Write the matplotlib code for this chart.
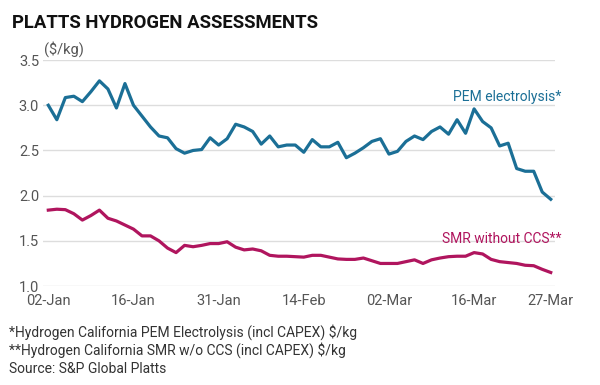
import matplotlib
matplotlib.use("Agg")
import matplotlib.pyplot as plt
import numpy as np

# business days, 02-Jan to 27-Mar (US holidays skipped)
tick_pos = [0, 10, 20, 30, 40, 50, 59]
tick_labels = ["02-Jan", "16-Jan", "31-Jan", "14-Feb", "02-Mar", "16-Mar", "27-Mar"]

pem = [3.00, 2.84, 3.085, 3.10, 3.04, 3.15, 3.27, 3.18, 2.97, 3.24,
       3.00, 2.88, 2.76, 2.66, 2.64, 2.52, 2.47, 2.50, 2.51, 2.64,
       2.56, 2.63, 2.79, 2.76, 2.71, 2.57, 2.66, 2.54, 2.56, 2.56,
       2.48, 2.62, 2.54, 2.54, 2.59, 2.42, 2.47, 2.53, 2.60, 2.63,
       2.46, 2.49, 2.60, 2.66, 2.62, 2.71, 2.76, 2.68, 2.84, 2.69,
       2.96, 2.82, 2.75, 2.55, 2.58, 2.30, 2.27, 2.27, 2.04, 1.96]

smr = [1.84, 1.85, 1.845, 1.80, 1.73, 1.78, 1.84, 1.75, 1.72, 1.675,
       1.63, 1.555, 1.555, 1.50, 1.42, 1.37, 1.45, 1.435, 1.45, 1.47,
       1.47, 1.49, 1.43, 1.40, 1.41, 1.39, 1.34, 1.33, 1.33, 1.325,
       1.32, 1.34, 1.34, 1.32, 1.30, 1.295, 1.295, 1.31, 1.28, 1.25,
       1.25, 1.25, 1.27, 1.29, 1.25, 1.29, 1.31, 1.325, 1.33, 1.33,
       1.37, 1.355, 1.295, 1.27, 1.26, 1.25, 1.23, 1.225, 1.185, 1.15]

blue = "#1b6f96"
magenta = "#b0155e"
grey = "#555555"
font = ["Roboto", "DejaVu Sans"]

fig = plt.figure(figsize=(6, 3.85), dpi=100)
ax = fig.add_axes([0.072, 0.257, 0.853, 0.587])

x = np.arange(len(pem))
ax.plot(x, pem, color=blue, lw=2.3)
ax.plot(x, smr, color=magenta, lw=2.3)

ax.set_xlim(-0.6, 59.5)
ax.set_ylim(1.0, 3.5)
ax.set_yticks([1.0, 1.5, 2.0, 2.5, 3.0, 3.5])
ax.set_yticklabels(["1.0", "1.5", "2.0", "2.5", "3.0", "3.5"])
ax.set_xticks(tick_pos)
ax.set_xticklabels(tick_labels)
ax.grid(axis="y", color="#dddddd", lw=1)
ax.set_axisbelow(True)
for s in ax.spines.values():
    s.set_visible(False)
ax.tick_params(length=0, labelsize=10.5, labelcolor=grey, pad=3)
ax.tick_params(axis="x", pad=6)
for lab in ax.get_xticklabels() + ax.get_yticklabels():
    lab.set_family(font)

ax.text(60.3, 3.096, "PEM electrolysis*", color=blue, fontsize=10,
        ha="right", va="center", family=font)
ax.text(60.3, 1.52, "SMR without CCS**", color=magenta, fontsize=10,
        ha="right", va="center", family=font)

fig.text(0.02, 0.94, "PLATTS HYDROGEN ASSESSMENTS", fontsize=13.3,
         fontweight="bold", color="#111111", va="center", family=font)
fig.text(0.073, 0.873, "($/kg)", fontsize=10.5, color=grey, va="center", family=font)

notes = ["*Hydrogen California PEM Electrolysis (incl CAPEX) $/kg",
         "**Hydrogen California SMR w/o CCS (incl CAPEX) $/kg",
         "Source: S&P Global Platts"]
for i, n in enumerate(notes):
    fig.text(0.015, 0.138 - i * 0.048, n, fontsize=10, color="#333333",
             va="center", family=font)

fig.savefig("out.png", dpi=100, facecolor="white")
